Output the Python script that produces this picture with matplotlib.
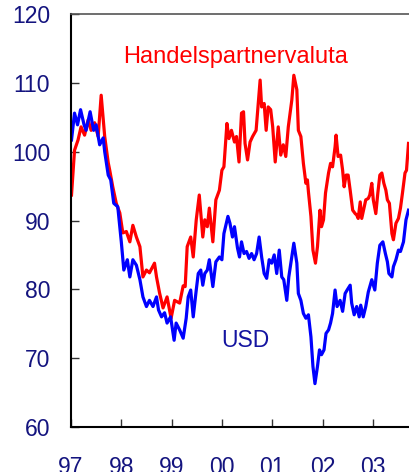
import matplotlib
matplotlib.use("Agg")
import matplotlib.pyplot as plt

# ---- data (decimal years, index values) ----
red_t = [1997.01, 1997.07, 1997.14, 1997.20, 1997.27, 1997.34, 1997.40, 1997.47, 1997.54, 1997.60,
         1997.67, 1997.74, 1997.77, 1997.83, 1997.90, 1997.97, 1998.03, 1998.10, 1998.17, 1998.23,
         1998.30, 1998.37, 1998.43, 1998.50, 1998.56, 1998.66, 1998.70, 1998.76, 1998.83, 1998.91,
         1998.99, 1999.06, 1999.16, 1999.23, 1999.27, 1999.31, 1999.38, 1999.43, 1999.49, 1999.55,
         1999.62, 1999.66, 1999.71, 1999.75, 1999.82, 1999.88, 1999.95, 2000.00, 2000.04, 2000.10,
         2000.14, 2000.19, 2000.25, 2000.29, 2000.34, 2000.39, 2000.43, 2000.46, 2000.51, 2000.56,
         2000.61, 2000.68, 2000.76, 2000.79, 2000.84, 2000.88, 2000.92, 2000.97, 2001.01, 2001.06,
         2001.12, 2001.17, 2001.22, 2001.27, 2001.32, 2001.39, 2001.43, 2001.49, 2001.52, 2001.57,
         2001.62, 2001.67, 2001.70, 2001.72, 2001.77, 2001.81, 2001.86, 2001.90, 2001.95, 2001.98,
         2002.02, 2002.06, 2002.12, 2002.16, 2002.20, 2002.25, 2002.27, 2002.31, 2002.36, 2002.40,
         2002.43, 2002.47, 2002.51, 2002.55, 2002.60, 2002.65, 2002.68, 2002.71, 2002.75, 2002.78,
         2002.83, 2002.86, 2002.91, 2002.94, 2002.98, 2003.01, 2003.06, 2003.10, 2003.14, 2003.18,
         2003.22, 2003.26, 2003.29, 2003.33, 2003.38, 2003.41, 2003.46, 2003.51, 2003.55, 2003.59,
         2003.64, 2003.67, 2003.71]
red_v = [93.7, 100.2, 101.7, 103.6, 102.4, 104.6, 103.1, 104.2, 102.2, 108.2,
         102.2, 98.4, 97.3, 94.9, 92.5, 91.1, 88.2, 88.4, 86.9, 89.3,
         87.6, 86.2, 81.8, 82.8, 82.4, 83.8, 81.8, 79.5, 77.3, 78.9,
         75.8, 78.4, 78.0, 80.5, 80.4, 86.2, 87.6, 84.7, 90.1, 93.7,
         87.6, 90.1, 89.1, 91.8, 86.9, 93.0, 94.4, 97.3, 97.8, 104.1,
         101.9, 103.1, 101.4, 102.2, 98.5, 105.6, 105.8, 101.2, 98.8, 101.4,
         102.2, 103.1, 110.4, 106.5, 107.0, 103.1, 106.5, 106.1, 103.6, 98.5,
         103.6, 99.5, 101.0, 99.3, 103.6, 107.5, 111.1, 109.0, 103.1, 102.2,
         98.3, 95.4, 95.9, 94.2, 90.6, 85.7, 83.8, 86.2, 91.5, 89.1,
         90.1, 94.0, 96.9, 98.3, 97.8, 100.7, 102.4, 99.3, 99.5, 97.3,
         94.9, 96.6, 96.6, 94.4, 91.5, 91.0, 90.8, 90.3, 92.7, 90.3,
         92.0, 93.0, 93.2, 93.7, 95.4, 93.0, 91.0, 94.0, 96.6, 96.9,
         95.4, 94.4, 93.0, 92.5, 88.1, 87.2, 89.6, 90.3, 91.8, 94.0,
         96.9, 97.3, 101.2]

blue_t = [1997.01, 1997.07, 1997.13, 1997.19, 1997.26, 1997.30, 1997.38, 1997.45, 1997.50, 1997.57,
          1997.64, 1997.67, 1997.74, 1997.79, 1997.85, 1997.93, 1998.00, 1998.05, 1998.12, 1998.17,
          1998.23, 1998.30, 1998.37, 1998.43, 1998.50, 1998.56, 1998.63, 1998.70, 1998.74, 1998.80,
          1998.86, 1998.91, 1998.98, 1999.05, 1999.09, 1999.16, 1999.23, 1999.29, 1999.33, 1999.38,
          1999.43, 1999.49, 1999.53, 1999.58, 1999.62, 1999.66, 1999.71, 1999.75, 1999.82, 1999.88,
          1999.95, 2000.00, 2000.04, 2000.12, 2000.16, 2000.21, 2000.25, 2000.31, 2000.35, 2000.39,
          2000.44, 2000.49, 2000.54, 2000.59, 2000.64, 2000.69, 2000.74, 2000.79, 2000.84, 2000.89,
          2000.94, 2000.99, 2001.04, 2001.09, 2001.14, 2001.19, 2001.23, 2001.29, 2001.33, 2001.39,
          2001.43, 2001.49, 2001.52, 2001.57, 2001.62, 2001.67, 2001.72, 2001.77, 2001.81, 2001.85,
          2001.90, 2001.94, 2001.98, 2002.03, 2002.07, 2002.12, 2002.16, 2002.20, 2002.25, 2002.29,
          2002.35, 2002.40, 2002.45, 2002.49, 2002.55, 2002.58, 2002.63, 2002.68, 2002.73, 2002.76,
          2002.81, 2002.86, 2002.91, 2002.98, 2003.04, 2003.09, 2003.14, 2003.20, 2003.25, 2003.29,
          2003.32, 2003.38, 2003.41, 2003.46, 2003.51, 2003.55, 2003.61, 2003.66, 2003.71]
blue_v = [101.7, 105.6, 103.9, 106.1, 103.9, 103.1, 105.8, 103.1, 103.9, 101.0,
          102.0, 100.0, 96.6, 95.9, 92.5, 92.0, 86.9, 82.8, 84.3, 81.8,
          84.3, 83.5, 81.4, 78.9, 77.5, 78.4, 77.5, 78.9, 77.0, 76.0,
          76.6, 75.1, 76.0, 72.6, 75.1, 74.1, 72.9, 75.8, 78.9, 79.9,
          76.0, 79.9, 82.3, 82.8, 80.6, 82.3, 82.8, 84.3, 80.4, 84.0,
          84.7, 84.3, 88.1, 90.6, 89.6, 87.6, 89.1, 86.0, 84.7, 86.9,
          85.2, 85.5, 84.5, 85.2, 84.3, 85.2, 87.6, 84.7, 82.3, 81.6,
          84.3, 83.8, 85.0, 82.3, 85.7, 81.8, 81.4, 78.4, 81.8, 84.7,
          86.7, 83.8, 79.4, 78.4, 76.5, 75.8, 76.3, 73.1, 68.8, 66.3,
          68.8, 71.2, 70.5, 71.2, 73.6, 74.1, 75.1, 76.5, 79.9, 77.5,
          78.4, 76.8, 79.4, 79.9, 80.6, 78.0, 76.3, 77.5, 76.0, 77.7,
          76.0, 77.5, 79.6, 81.4, 79.9, 83.8, 86.4, 86.9, 85.2, 84.0,
          82.3, 81.8, 83.3, 84.3, 85.7, 85.5, 86.9, 90.1, 91.5]

x_ticks = [1997, 1998, 1999, 2000, 2001, 2002, 2003]
x_labels = ["97", "98", "99", "00", "01", "02", "03"]
y_ticks = [60, 70, 80, 90, 100, 110, 120]

label_red = "Handelspartnervaluta"
label_blue = "USD"

# ---- figure ----
W, H = 409, 472
fig = plt.figure(figsize=(W / 100, H / 100), dpi=100)
plt.rcParams['font.family'] = ['Liberation Sans', 'DejaVu Sans']

left_px, right_px, top_px, bot_px = 71, 409, 14, 427
ax = fig.add_axes([left_px / W, (H - bot_px) / H, (right_px - left_px) / W, (bot_px - top_px) / H])

ax.plot(red_t, red_v, color='#ff0000', lw=2.3, solid_joinstyle='round')
ax.plot(blue_t, blue_v, color='#0000ff', lw=2.3, solid_joinstyle='round')

ax.set_xlim(1997.0, 1997.0 + (right_px - left_px) / 50.3)
ax.set_ylim(60, 120)

navy = '#14147f'
ax.set_xticks(x_ticks)
ax.set_xticklabels(x_labels)
ax.set_yticks(y_ticks)
ax.tick_params(axis='both', direction='in', length=6, width=1, color='#333333',
               labelsize=16.5, labelcolor=navy)
ax.tick_params(axis='x', pad=21)
ax.tick_params(axis='y', pad=15)

ax.spines['right'].set_visible(False)
ax.spines['top'].set_color('#555555')
ax.spines['top'].set_linewidth(1.2)
ax.spines['left'].set_linewidth(1.5)
ax.spines['bottom'].set_linewidth(1.5)
ax.spines['left'].set_color('black')
ax.spines['bottom'].set_color('black')

ax.text(1998.03, 112.93, label_red, color='#ff0000', fontsize=17, ha='left', va='baseline')
ax.text(1999.996, 71.62, label_blue, color='#1414a0', fontsize=16.5, ha='left', va='baseline')

fig.savefig('out.png', dpi=100)
